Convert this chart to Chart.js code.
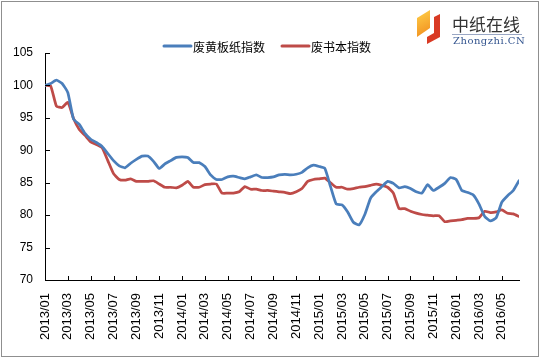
<!DOCTYPE html>
<html>
<head>
<meta charset="utf-8">
<script src="https://cdn.jsdelivr.net/npm/chart.js@4.4.1/dist/chart.umd.min.js"></script>
<style>
  html, body { margin: 0; padding: 0; background: #fff; }
  #wrap { position: relative; width: 541px; height: 359px; }
  #frame { position: absolute; left: 1px; top: 1px; width: 536px; height: 354px; border: 1px solid #8f8f8f; pointer-events: none; }
  canvas { position: absolute; left: 0; top: 0; }
</style>
</head>
<body>
<div id="wrap">
  <canvas id="c" width="541" height="359"></canvas>
  <div id="frame"></div>
</div>
<script>
// Semi-monthly index readings, starting 2013/01
const seriesNames = ['废黄板纸指数', '废书本指数'];
const tickLabels = ['2013/01','2013/03','2013/05','2013/07','2013/09','2013/11',
  '2014/01','2014/03','2014/05','2014/07','2014/09','2014/11',
  '2015/01','2015/03','2015/05','2015/07','2015/09','2015/11',
  '2016/01','2016/03','2016/05'];
const stepMonths = 0.5;
const boardIndex = [
  100.0, 100.3, 100.8, 100.3, 98.9, 94.8, 94.0, 92.6, 91.7, 91.2,
  90.6, 89.5, 88.4, 87.6, 87.3, 88.0, 88.6, 89.1, 89.1, 88.3,
  87.2, 87.9, 88.4, 88.9, 89.0, 88.9, 88.1, 88.1, 87.5, 86.2,
  85.5, 85.5, 85.9, 86.0, 85.8, 85.6, 85.9, 86.2, 85.8, 85.8,
  85.9, 86.2, 86.3, 86.2, 86.3, 86.6, 87.3, 87.7, 87.5, 87.2,
  84.4, 81.7, 81.6, 80.5, 78.9, 78.5, 80.1, 82.6, 83.6, 84.4,
  85.2, 84.9, 84.2, 84.4, 84.1, 83.6, 83.4, 84.7, 83.8, 84.3,
  84.9, 85.8, 85.5, 83.8, 83.5, 83.1, 81.7, 79.8, 79.1, 79.6,
  82.0, 83.0, 83.8, 85.3
];
const bookIndex = [
  100.0, 99.9, 96.8, 96.6, 97.4, 94.9, 93.2, 92.3, 91.3, 90.9,
  90.4, 88.4, 86.4, 85.5, 85.4, 85.6, 85.2, 85.2, 85.2, 85.3,
  84.8, 84.3, 84.3, 84.2, 84.6, 85.2, 84.3, 84.3, 84.7, 84.8,
  84.8, 83.4, 83.4, 83.4, 83.6, 84.4, 84.0, 84.0, 83.8, 83.8,
  83.7, 83.6, 83.5, 83.3, 83.6, 84.1, 85.2, 85.5, 85.6, 85.7,
  85.0, 84.3, 84.3, 84.0, 84.1, 84.3, 84.4, 84.6, 84.8, 84.6,
  84.3, 83.4, 81.0, 81.0, 80.6, 80.3, 80.1, 80.0, 79.9, 79.9,
  79.0, 79.1, 79.2, 79.3, 79.5, 79.5, 79.6, 80.6, 80.4, 80.5,
  80.8, 80.3, 80.2, 79.8
];
const colors = ['#4A7EBB', '#BE4B48'];

const toPoints = arr => arr.map((v, i) => ({ x: i * stepMonths, y: v }));

const innerTicks = {
  id: 'innerTicks',
  afterDraw(chart) {
    const ctx = chart.ctx;
    const xs = chart.scales.x, ys = chart.scales.y;
    const a = chart.chartArea;
    ctx.save();
    ctx.strokeStyle = '#000';
    ctx.lineWidth = 1;
    ctx.beginPath();
    ys.ticks.forEach(t => {
      const y = Math.round(ys.getPixelForValue(t.value)) + 0.5;
      ctx.moveTo(a.left, y); ctx.lineTo(a.left + 5, y);
    });
    xs.ticks.forEach(t => {
      const x = Math.round(xs.getPixelForValue(t.value)) + 0.5;
      ctx.moveTo(x, a.bottom); ctx.lineTo(x, a.bottom - 4);
    });
    ctx.stroke();
    ctx.restore();
  }
};

const customLegend = {
  id: 'customLegend',
  afterDraw(chart) {
    const ctx = chart.ctx;
    ctx.save();
    ctx.font = '12px "Noto Sans CJK SC", sans-serif';
    ctx.textBaseline = 'middle';
    const y = 46;
    let x = 164;
    chart.data.datasets.forEach((ds, i) => {
      ctx.strokeStyle = ds.borderColor;
      ctx.lineWidth = 3;
      ctx.lineCap = 'round';
      ctx.beginPath();
      ctx.moveTo(x, y); ctx.lineTo(x + 27, y);
      ctx.stroke();
      ctx.fillStyle = '#000';
      ctx.fillText(ds.label, x + 29, y + 1);
      x += 29 + ctx.measureText(ds.label).width + 17;
    });
    ctx.restore();
  }
};

const logo = {
  id: 'logo',
  afterDraw(chart) {
    const ctx = chart.ctx;
    ctx.save();
    const g = ctx.createLinearGradient(416, 10, 430, 37);
    g.addColorStop(0, '#FFD24A');
    g.addColorStop(1, '#F08A1C');
    ctx.fillStyle = g;
    ctx.beginPath();
    ctx.moveTo(417, 18); ctx.lineTo(430, 10); ctx.lineTo(430, 28); ctx.lineTo(417, 37);
    ctx.closePath(); ctx.fill();
    ctx.fillStyle = '#D93A24';
    ctx.beginPath();
    ctx.moveTo(434, 17); ctx.lineTo(440, 14); ctx.lineTo(440, 37); ctx.lineTo(427, 44);
    ctx.lineTo(427, 37); ctx.lineTo(434, 33);
    ctx.closePath(); ctx.fill();
    ctx.fillStyle = '#333';
    ctx.font = '17px "Noto Sans CJK SC", sans-serif';
    ctx.textBaseline = 'alphabetic';
    ctx.fillText('中纸在线', 452, 31);
    ctx.strokeStyle = '#9aa7c4';
    ctx.lineWidth = 1;
    ctx.beginPath(); ctx.moveTo(452, 34.5); ctx.lineTo(522, 34.5); ctx.stroke();
    ctx.fillStyle = '#34558f';
    ctx.font = '10px "DejaVu Serif", serif';
    try { ctx.letterSpacing = '0.5px'; } catch (e) {}
    ctx.fillText('Zhongzhi.CN', 453, 44);
    ctx.restore();
  }
};

new Chart(document.getElementById('c'), {
  type: 'line',
  data: {
    datasets: [
      { label: seriesNames[0], data: toPoints(boardIndex), borderColor: colors[0], backgroundColor: colors[0] },
      { label: seriesNames[1], data: toPoints(bookIndex), borderColor: colors[1], backgroundColor: colors[1] }
    ]
  },
  options: {
    responsive: false,
    animation: false,
    layout: { padding: { top: 53, right: 22, left: 0, bottom: 0 } },
    elements: {
      point: { radius: 0 },
      line: { borderWidth: 2.75, tension: 0.15, borderJoinStyle: 'round', borderCapStyle: 'round' }
    },
    plugins: { legend: { display: false }, tooltip: { enabled: false } },
    scales: {
      x: {
        type: 'linear',
        min: 0,
        max: (boardIndex.length - 1) * stepMonths,
        afterFit: s => { s.height = 79; },
        grid: { drawOnChartArea: false, drawTicks: false },
        border: { display: true, color: '#000', width: 1 },
        ticks: {
          stepSize: 2,
          includeBounds: false,
          autoSkip: false,
          minRotation: 90,
          maxRotation: 90,
          padding: 13,
          color: '#000',
          font: { family: '"Liberation Sans", Arial, sans-serif', size: 13 },
          callback: v => tickLabels[v / 2]
        }
      },
      y: {
        min: 70,
        max: 105,
        afterFit: s => { s.width = 45; },
        grid: { drawOnChartArea: false, drawTicks: false },
        border: { display: true, color: '#000', width: 1 },
        ticks: {
          stepSize: 5,
          padding: 12,
          color: '#000',
          font: { family: '"Liberation Sans", Arial, sans-serif', size: 12 }
        }
      }
    }
  },
  plugins: [innerTicks, customLegend, logo]
});
</script>
</body>
</html>
